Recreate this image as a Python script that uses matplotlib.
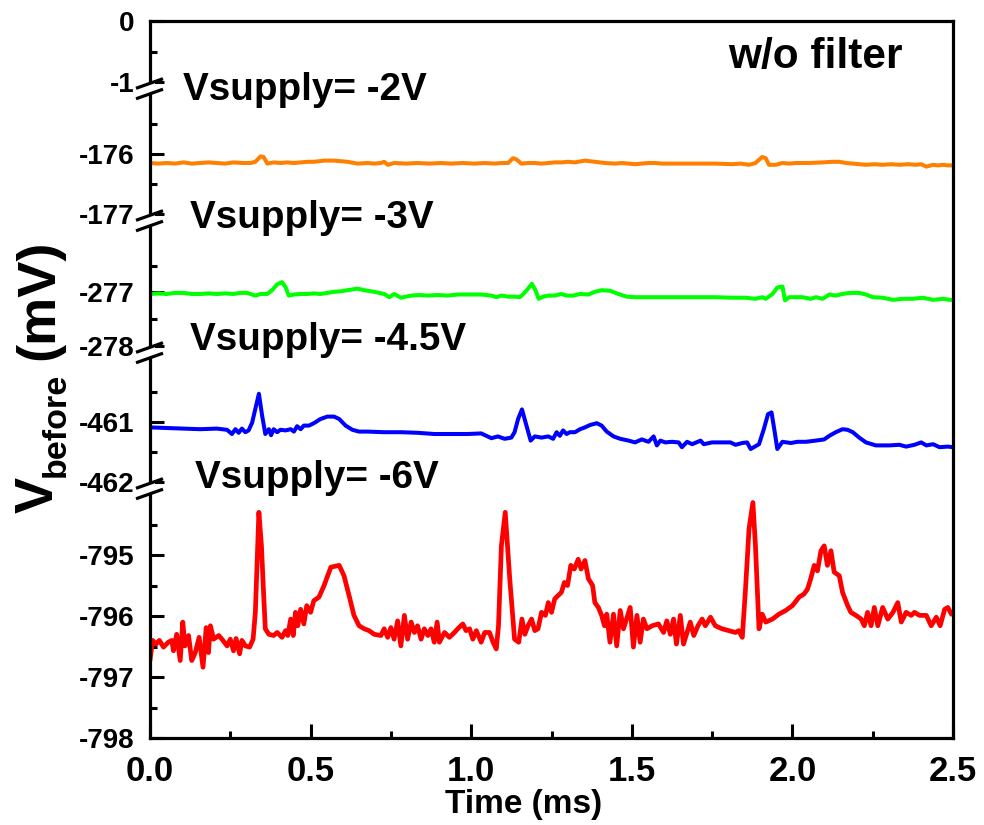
import numpy as np
import matplotlib
matplotlib.use("Agg")
import matplotlib.pyplot as plt
from matplotlib.ticker import FixedLocator
from matplotlib.lines import Line2D
from matplotlib.patches import Polygon

plt.rcParams["font.family"] = ["Liberation Sans", "DejaVu Sans"]
plt.rcParams["font.weight"] = "bold"

# ---------------- recorded traces (time in ms, voltage in mV) ----------------
t_orange = [0.000, 0.026, 0.052, 0.078, 0.104, 0.130, 0.156, 0.182, 0.208, 0.234,
            0.260, 0.287, 0.313, 0.328, 0.344, 0.354, 0.365, 0.385, 0.406, 0.427,
            0.448, 0.469, 0.490, 0.510, 0.542, 0.573, 0.594, 0.615, 0.646, 0.677,
            0.698, 0.719, 0.729, 0.740, 0.760, 0.797, 0.833, 0.870, 0.906, 0.938,
            0.974, 1.010, 1.042, 1.073, 1.094, 1.115, 1.130, 1.141, 1.156, 1.177,
            1.198, 1.219, 1.240, 1.260, 1.281, 1.302, 1.323, 1.354, 1.385, 1.417,
            1.448, 1.469, 1.490, 1.510, 1.531, 1.552, 1.573, 1.594, 1.615, 1.656,
            1.708, 1.760, 1.813, 1.839, 1.865, 1.885, 1.906, 1.917, 1.927, 1.948,
            1.969, 1.990, 2.010, 2.052, 2.094, 2.125, 2.146, 2.167, 2.188, 2.208,
            2.229, 2.255, 2.281, 2.307, 2.333, 2.359, 2.385, 2.401, 2.417, 2.438,
            2.453, 2.469, 2.484, 2.500]
v_orange = [-176.15, -176.16, -176.15, -176.16, -176.14, -176.16, -176.15, -176.14, -176.15, -176.16,
            -176.14, -176.15, -176.15, -176.13, -176.04, -176.05, -176.16, -176.14, -176.15, -176.14,
            -176.15, -176.14, -176.13, -176.13, -176.11, -176.11, -176.12, -176.13, -176.16, -176.15,
            -176.16, -176.15, -176.13, -176.18, -176.15, -176.16, -176.15, -176.16, -176.15, -176.16,
            -176.15, -176.16, -176.15, -176.16, -176.15, -176.15, -176.07, -176.09, -176.16, -176.15,
            -176.15, -176.16, -176.15, -176.14, -176.14, -176.13, -176.14, -176.11, -176.13, -176.15,
            -176.16, -176.15, -176.16, -176.17, -176.16, -176.15, -176.15, -176.16, -176.16, -176.16,
            -176.16, -176.16, -176.17, -176.16, -176.18, -176.15, -176.05, -176.07, -176.18, -176.18,
            -176.15, -176.16, -176.15, -176.15, -176.14, -176.13, -176.13, -176.15, -176.16, -176.17,
            -176.18, -176.17, -176.18, -176.17, -176.18, -176.17, -176.18, -176.17, -176.21, -176.18,
            -176.19, -176.18, -176.19, -176.19]

t_green = [0.000, 0.026, 0.052, 0.078, 0.104, 0.130, 0.156, 0.182, 0.208, 0.234,
           0.260, 0.281, 0.302, 0.328, 0.344, 0.365, 0.380, 0.396, 0.411, 0.422,
           0.432, 0.448, 0.469, 0.490, 0.510, 0.531, 0.552, 0.573, 0.594, 0.615,
           0.646, 0.667, 0.698, 0.729, 0.745, 0.760, 0.781, 0.797, 0.813, 0.839,
           0.865, 0.896, 0.927, 0.958, 0.990, 1.031, 1.063, 1.078, 1.094, 1.115,
           1.135, 1.151, 1.161, 1.177, 1.189, 1.200, 1.210, 1.224, 1.240, 1.260,
           1.281, 1.297, 1.318, 1.339, 1.365, 1.385, 1.406, 1.432, 1.458, 1.484,
           1.510, 1.552, 1.604, 1.656, 1.708, 1.760, 1.813, 1.854, 1.885, 1.906,
           1.917, 1.938, 1.953, 1.969, 1.977, 1.990, 2.031, 2.057, 2.073, 2.094,
           2.115, 2.135, 2.156, 2.177, 2.208, 2.229, 2.250, 2.281, 2.313, 2.344,
           2.375, 2.406, 2.438, 2.469, 2.490, 2.500]
v_green = [-277.03, -277.02, -277.03, -277.01, -277.01, -277.03, -277.03, -277.02, -277.03, -277.02,
           -277.03, -277.01, -277.01, -277.06, -277.03, -277.03, -276.96, -276.85, -276.81, -276.90,
           -277.06, -277.04, -277.03, -277.03, -277.02, -277.03, -277.01, -276.99, -276.98, -276.96,
           -276.93, -276.96, -276.99, -277.03, -277.09, -277.03, -277.10, -277.08, -277.06, -277.05,
           -277.06, -277.05, -277.06, -277.04, -277.04, -277.04, -277.06, -277.09, -277.06, -277.08,
           -277.08, -277.09, -277.04, -276.93, -276.84, -276.96, -277.12, -277.08, -277.06, -277.06,
           -277.03, -277.06, -277.06, -277.03, -277.04, -276.99, -276.96, -276.97, -277.03, -277.08,
           -277.09, -277.09, -277.09, -277.09, -277.09, -277.09, -277.10, -277.10, -277.12, -277.09,
           -277.12, -277.03, -276.91, -276.89, -277.15, -277.09, -277.09, -277.12, -277.09, -277.12,
           -277.04, -277.06, -277.03, -277.01, -277.01, -277.04, -277.09, -277.10, -277.14, -277.12,
           -277.12, -277.10, -277.14, -277.12, -277.14, -277.14]

t_blue = [0.000, 0.052, 0.104, 0.156, 0.208, 0.240, 0.255, 0.266, 0.276, 0.286,
          0.297, 0.307, 0.318, 0.328, 0.339, 0.349, 0.359, 0.370, 0.377, 0.385,
          0.396, 0.406, 0.422, 0.438, 0.448, 0.458, 0.469, 0.479, 0.495, 0.510,
          0.531, 0.552, 0.573, 0.589, 0.609, 0.630, 0.651, 0.677, 0.729, 0.781,
          0.833, 0.885, 0.938, 0.990, 1.031, 1.063, 1.083, 1.104, 1.125, 1.135,
          1.146, 1.158, 1.172, 1.185, 1.198, 1.219, 1.240, 1.255, 1.266, 1.276,
          1.286, 1.297, 1.307, 1.323, 1.339, 1.354, 1.370, 1.391, 1.406, 1.422,
          1.443, 1.464, 1.490, 1.510, 1.531, 1.552, 1.568, 1.578, 1.589, 1.604,
          1.625, 1.646, 1.656, 1.672, 1.688, 1.714, 1.724, 1.750, 1.781, 1.807,
          1.823, 1.844, 1.859, 1.870, 1.880, 1.896, 1.911, 1.924, 1.935, 1.945,
          1.953, 1.969, 1.995, 2.016, 2.042, 2.073, 2.099, 2.115, 2.135, 2.156,
          2.172, 2.188, 2.208, 2.229, 2.260, 2.302, 2.333, 2.354, 2.380, 2.401,
          2.417, 2.438, 2.458, 2.484, 2.500]
v_blue = [-461.09, -461.10, -461.11, -461.12, -461.11, -461.13, -461.20, -461.12, -461.18, -461.11,
          -461.17, -461.14, -461.01, -460.78, -460.53, -460.89, -461.20, -461.12, -461.22, -461.12,
          -461.17, -461.13, -461.14, -461.12, -461.16, -461.07, -461.12, -461.06, -461.06, -461.02,
          -460.95, -460.91, -460.91, -460.95, -461.06, -461.13, -461.16, -461.16, -461.17, -461.17,
          -461.18, -461.20, -461.20, -461.20, -461.19, -461.27, -461.24, -461.28, -461.26, -461.17,
          -460.95, -460.79, -461.06, -461.31, -461.24, -461.26, -461.24, -461.28, -461.17, -461.23,
          -461.14, -461.20, -461.17, -461.17, -461.12, -461.09, -461.05, -461.02, -461.06, -461.16,
          -461.24, -461.28, -461.31, -461.34, -461.29, -461.33, -461.24, -461.39, -461.31, -461.34,
          -461.33, -461.34, -461.42, -461.33, -461.37, -461.31, -461.37, -461.34, -461.34, -461.34,
          -461.38, -461.35, -461.34, -461.45, -461.42, -461.37, -461.12, -460.87, -460.84, -461.17,
          -461.45, -461.33, -461.35, -461.33, -461.33, -461.31, -461.29, -461.23, -461.17, -461.12,
          -461.13, -461.17, -461.26, -461.34, -461.39, -461.39, -461.38, -461.41, -461.38, -461.34,
          -461.39, -461.37, -461.42, -461.41, -461.42]

t_red = [0.000, 0.008, 0.019, 0.029, 0.042, 0.057, 0.068, 0.073, 0.083, 0.094,
         0.102, 0.109, 0.120, 0.130, 0.141, 0.153, 0.165, 0.175, 0.182, 0.188,
         0.198, 0.214, 0.224, 0.240, 0.250, 0.260, 0.268, 0.279, 0.286, 0.297,
         0.310, 0.321, 0.328, 0.339, 0.347, 0.354, 0.359, 0.370, 0.385, 0.396,
         0.411, 0.422, 0.429, 0.438, 0.446, 0.453, 0.460, 0.469, 0.479, 0.488,
         0.500, 0.510, 0.526, 0.542, 0.563, 0.589, 0.604, 0.620, 0.635, 0.651,
         0.667, 0.682, 0.698, 0.719, 0.729, 0.740, 0.750, 0.760, 0.771, 0.781,
         0.792, 0.802, 0.813, 0.823, 0.833, 0.844, 0.854, 0.865, 0.875, 0.885,
         0.894, 0.901, 0.917, 0.932, 0.948, 0.958, 0.974, 0.984, 0.995, 1.005,
         1.016, 1.031, 1.042, 1.057, 1.068, 1.078, 1.085, 1.094, 1.106, 1.120,
         1.135, 1.148, 1.158, 1.167, 1.177, 1.188, 1.198, 1.208, 1.219, 1.231,
         1.240, 1.250, 1.260, 1.281, 1.290, 1.300, 1.310, 1.321, 1.333, 1.342,
         1.354, 1.365, 1.378, 1.385, 1.396, 1.406, 1.415, 1.422, 1.432, 1.443,
         1.453, 1.464, 1.474, 1.495, 1.505, 1.516, 1.526, 1.536, 1.547, 1.563,
         1.583, 1.599, 1.609, 1.620, 1.630, 1.639, 1.651, 1.661, 1.672, 1.682,
         1.693, 1.706, 1.719, 1.729, 1.745, 1.760, 1.781, 1.802, 1.823, 1.833,
         1.844, 1.854, 1.865, 1.877, 1.885, 1.896, 1.906, 1.917, 1.938, 1.958,
         1.979, 2.000, 2.021, 2.036, 2.047, 2.057, 2.068, 2.078, 2.089, 2.099,
         2.109, 2.120, 2.130, 2.146, 2.156, 2.172, 2.182, 2.198, 2.214, 2.224,
         2.234, 2.245, 2.255, 2.266, 2.281, 2.297, 2.313, 2.328, 2.339, 2.354,
         2.370, 2.380, 2.396, 2.417, 2.432, 2.448, 2.460, 2.474, 2.484, 2.495,
         2.500]
v_red = [-796.73, -796.40, -796.46, -796.40, -796.51, -796.43, -796.40, -796.57, -796.30, -796.73,
         -796.10, -796.49, -796.32, -796.73, -796.60, -796.35, -796.84, -796.19, -796.60, -796.16,
         -796.38, -796.32, -796.38, -796.49, -796.38, -796.57, -796.37, -796.62, -796.40, -796.49,
         -796.51, -796.38, -795.94, -794.30, -794.85, -795.67, -796.21, -796.30, -796.32, -796.27,
         -796.35, -796.24, -796.32, -796.05, -796.32, -795.94, -796.16, -795.89, -796.13, -795.83,
         -795.94, -795.75, -795.69, -795.50, -795.20, -795.17, -795.34, -795.67, -795.99, -796.16,
         -796.21, -796.24, -796.30, -796.32, -796.21, -796.35, -796.19, -796.38, -796.08, -796.49,
         -795.99, -796.38, -796.10, -796.27, -796.16, -796.38, -796.21, -796.32, -796.21, -796.43,
         -796.10, -796.43, -796.27, -796.35, -796.27, -796.21, -796.13, -796.24, -796.21, -796.38,
         -796.24, -796.43, -796.27, -796.27, -796.43, -796.54, -796.16, -794.85, -794.30, -795.39,
         -796.38, -796.43, -796.05, -796.30, -796.16, -796.05, -796.24, -796.21, -795.94, -795.99,
         -795.78, -795.94, -795.72, -795.61, -795.45, -795.50, -795.17, -795.23, -795.07, -795.23,
         -795.09, -795.39, -795.50, -795.78, -795.86, -795.99, -796.16, -795.97, -796.43, -795.97,
         -796.49, -795.91, -796.21, -795.86, -796.51, -795.99, -796.43, -796.05, -796.21, -796.16,
         -796.13, -796.27, -796.08, -796.30, -796.05, -796.46, -795.99, -796.46, -796.27, -796.10,
         -796.32, -796.16, -796.05, -796.16, -796.02, -796.16, -796.21, -796.24, -796.27, -796.24,
         -796.35, -795.56, -794.57, -794.14, -794.85, -796.21, -795.97, -796.10, -796.05, -795.97,
         -795.91, -795.83, -795.69, -795.64, -795.56, -795.39, -795.17, -795.26, -794.93, -794.85,
         -795.17, -794.93, -795.28, -795.34, -795.61, -795.83, -795.94, -795.99, -796.05, -796.16,
         -795.94, -796.16, -795.86, -796.16, -795.86, -796.05, -795.94, -795.78, -796.10, -795.94,
         -795.99, -795.94, -795.99, -795.99, -796.16, -796.02, -796.16, -795.89, -795.86, -795.97,
         -795.94]

series_colors = ["#FF8000", "#00FF00", "#0000FF", "#FF0000"]
series_labels = ["Vsupply= -2V", "Vsupply= -3V", "Vsupply= -4.5V", "Vsupply= -6V"]

y_major = [-798, -797, -796, -795, -462, -461, -278, -277, -177, -176, -1, 0]
y_minor = [-797.5, -796.5, -795.5, -794.5, -461.5, -460.5, -277.5, -276.5,
           -176.5, -175.5, -0.5]
y_breaks = [-1, -177, -278, -462]
x_major = [0.0, 0.5, 1.0, 1.5, 2.0, 2.5]
x_minor = [0.25, 0.75, 1.25, 1.75, 2.25]

# ---------------- broken y axis ----------------
# kept value ranges stacked on one axis line; the skipped ranges are squeezed
# into short gaps (output unit: pixels above the bottom spine)
axis_values = [-798, -794, -462, -460, -278, -275.8, -177, -175, -1, 0]
axis_pixels = [0, 244, 256, 376, 392, 510, 524, 644, 656, 717]
EDGE_SLOPE = 61.0


def to_axis(v):
    v = np.asarray(v, dtype=float)
    out = np.interp(v, axis_values, axis_pixels)
    out = np.where(v < axis_values[0], axis_pixels[0] + (v - axis_values[0]) * EDGE_SLOPE, out)
    out = np.where(v > axis_values[-1], axis_pixels[-1] + (v - axis_values[-1]) * EDGE_SLOPE, out)
    return out


def from_axis(u):
    u = np.asarray(u, dtype=float)
    out = np.interp(u, axis_pixels, axis_values)
    out = np.where(u < axis_pixels[0], axis_values[0] + (u - axis_pixels[0]) / EDGE_SLOPE, out)
    out = np.where(u > axis_pixels[-1], axis_values[-1] + (u - axis_pixels[-1]) / EDGE_SLOPE, out)
    return out


W, H = 984, 825
AX_L, AX_B, AX_W, AX_H = 150, 87, 803, 717

fig = plt.figure(figsize=(W / 100, H / 100), dpi=100)
ax = fig.add_axes([AX_L / W, AX_B / H, AX_W / W, AX_H / H])
ax.set_yscale("function", functions=(to_axis, from_axis))

for tt, vv, col in zip([t_orange, t_green, t_blue, t_red],
                       [v_orange, v_green, v_blue, v_red], series_colors):
    ax.plot(tt, vv, color=col, lw=3.4 if col == "#FF0000" else 2.9,
            solid_joinstyle="round", solid_capstyle="round")

ax.set_xlim(0, 2.5)
ax.set_ylim(-798, 0)

ax.set_yticks(y_major, labels=[str(v) for v in y_major])
ax.yaxis.set_minor_locator(FixedLocator(y_minor))
ax.set_xticks(x_major, labels=[f"{v:.1f}" for v in x_major])
ax.xaxis.set_minor_locator(FixedLocator(x_minor))

for s in ax.spines.values():
    s.set_linewidth(2.3)
ax.tick_params(which="both", direction="in", width=2.2, top=False, right=False)
ax.tick_params(which="major", length=10)
ax.tick_params(which="minor", length=5)
ax.tick_params(axis="y", labelsize=20, pad=11)
ax.tick_params(axis="x", labelsize=25, pad=12)

# axis-break symbols: two parallel slashes across the left spine
for b in y_breaks:
    py = AX_B + float(to_axis(b))          # pixel height of the break value
    up, lo = py - 1.5, py - 12.0
    x0, x1 = AX_L - 14, AX_L + 13
    rise = 4.8
    gap = Polygon([((AX_L - 5) / W, (up - rise * 5 / 13.5) / H),
                   ((AX_L + 5) / W, (up + rise * 5 / 13.5) / H),
                   ((AX_L + 5) / W, (lo + rise * 5 / 13.5) / H),
                   ((AX_L - 5) / W, (lo - rise * 5 / 13.5) / H)],
                  closed=True, facecolor="white", edgecolor="none",
                  transform=fig.transFigure, zorder=5)
    fig.add_artist(gap)
    for yc in (up, lo):
        fig.add_artist(Line2D([x0 / W, x1 / W], [(yc - rise) / H, (yc + rise) / H],
                              color="black", lw=2.3, solid_capstyle="butt",
                              transform=fig.transFigure, zorder=6))

# supply-voltage captions and panel note
caption_pos = [(0.041, 0.8898), (0.0498, 0.7113), (0.0498, 0.5411), (0.056, 0.3487)]
for (cx, cy), txt in zip(caption_pos, series_labels):
    ax.text(cx, cy, txt, transform=ax.transAxes, fontsize=27.8,
            fontweight="bold", ha="left", va="baseline")
ax.text(0.7198, 0.934, "w/o filter", transform=ax.transAxes, fontsize=30.5,
        fontweight="bold", ha="left", va="baseline")

fig.text(524 / W, 12 / H, "Time (ms)", fontsize=24, fontweight="bold",
         ha="center", va="baseline")

# y-axis title built from three rotated pieces: V, subscript, unit
ylabel_parts = [("V", 53, 513, 39), ("before", 65, 477, 24.5), ("(mV)", 53, 360, 39)]
for txt, bx, by, size in ylabel_parts:
    fig.text(bx / W, 1 - by / H, txt, fontsize=size, fontweight="bold",
             rotation=90, rotation_mode="anchor", ha="left", va="baseline")

fig.savefig("out.png", dpi=100)
